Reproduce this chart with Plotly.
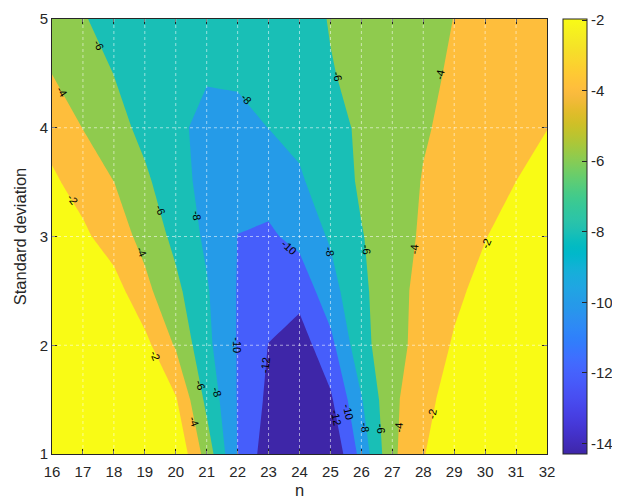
import plotly.graph_objects as go

# ---------------- data ----------------
n_values = [16, 17, 18, 19, 20, 21, 22, 23, 24, 25, 26, 27, 28, 29, 30, 31, 32]
sigma_values = [1.0, 1.5, 2.0, 2.5, 3.0, 3.5, 4.0, 4.5, 5.0]

z_sigma_1_0 = [0.2, 0.2, 0.1, 0.0, -0.18, -4.84, -10.1, -13.1, -14.3, -13.9, -9.34, -4.38, -2.16, 0.13, 0.3, 0.4, 0.5]
z_sigma_1_5 = [0.1, 0.0, -0.2, -0.8, -1.8, -6.5, -10.1, -12.42, -13.8, -12.34, -8.14, -4.4, -2.75, -0.95, 0.0, 0.2, 0.3]
z_sigma_2_0 = [0.0, -0.2, -0.6, -1.38, -4.2, -7.5, -10.1, -12.05, -13.0, -10.6, -6.6, -4.8, -3.2, -1.8, -0.9, -0.4, 0.0]
z_sigma_2_5 = [-0.2, -0.5, -1.14, -3.47, -5.5, -7.8, -10.1, -11.0, -11.3, -8.8, -6.3, -5.1, -3.1, -2.4, -1.4, -0.8, -0.4]
z_sigma_3_0 = [-1.1, -1.59, -3.02, -4.6, -6.53, -8.37, -10.02, -10.3, -9.44, -7.77, -6.12, -4.85, -3.74, -2.9, -2.07, -1.2, -0.6]
z_sigma_3_5 = [-1.66, -2.82, -3.98, -5.66, -7.14, -8.7, -9.6, -9.23, -8.2, -7.2, -5.7, -4.86, -3.91, -3.3, -2.64, -1.99, -1.35]
z_sigma_4_0 = [-2.76, -4.04, -5.32, -6.5, -7.56, -8.6, -8.55, -7.98, -7.61, -6.75, -5.65, -4.93, -4.16, -3.58, -3.06, -2.54, -2.03]
z_sigma_4_5 = [-4.02, -5.0, -6.03, -6.8, -7.4, -7.81, -7.72, -7.4, -6.9, -6.1, -5.55, -4.95, -4.34, -3.8, -3.35, -2.95, -2.55]
z_sigma_5_0 = [-5.0, -5.88, -6.6, -7.0, -7.3, -7.5, -7.45, -7.2, -6.7, -5.9, -5.4, -4.9, -4.45, -3.98, -3.55, -3.15, -2.8]

contour_levels = [-12, -10, -8, -6, -4, -2]
colorbar_ticks = [-14, -12, -10, -8, -6, -4, -2]
colorbar_range = [-14.3, -1.97]
x_ticks = [16, 17, 18, 19, 20, 21, 22, 23, 24, 25, 26, 27, 28, 29, 30, 31, 32]
y_ticks = [1, 2, 3, 4, 5]

# contour label texts (levels) and where they sit on the lines (n, sigma, angle)
label_levels = [-6, -4, -8, -6, -4, -2, -6, -8, -10, -8, -6, -4, -2,
                -4, -10, -2, -12, -6, -8, -4, -10, -12, -8, -6, -4, -2]
label_positions = [
    (17.51, 4.76, 64), (16.33, 4.33, 57), (22.28, 4.26, 48), (25.25, 4.47, 78), (28.55, 4.49, -78),
    (16.69, 3.34, 54), (19.50, 3.24, 68), (20.69, 3.19, 84), (23.65, 2.90, 42), (24.99, 2.86, 80),
    (26.18, 2.88, 85), (27.69, 2.88, -86), (30.04, 2.94, -67), (18.91, 2.86, 65), (21.98, 2.00, 90),
    (19.34, 1.90, 67), (22.89, 1.82, -84), (20.79, 1.63, 70), (21.33, 1.57, 73), (20.58, 1.30, 70),
    (25.59, 1.39, 77), (25.19, 1.33, 79), (26.13, 1.24, 83), (26.64, 1.23, 86), (27.20, 1.24, -86),
    (28.28, 1.37, -79),
]

# ---------------- style ----------------
band_colors = ['#3E26A8', '#465EFB', '#259BE8', '#19BFB6', '#8FCB4E', '#FEBE3C', '#F9FB15']

parula = [
    (0.2422, 0.1504, 0.6603), (0.2504, 0.1650, 0.7076), (0.2578, 0.1818, 0.7511), (0.2647, 0.1978, 0.7952),
    (0.2706, 0.2147, 0.8364), (0.2751, 0.2342, 0.8710), (0.2783, 0.2559, 0.8991), (0.2803, 0.2782, 0.9221),
    (0.2813, 0.3006, 0.9414), (0.2810, 0.3228, 0.9579), (0.2795, 0.3447, 0.9717), (0.2760, 0.3667, 0.9829),
    (0.2699, 0.3892, 0.9906), (0.2602, 0.4123, 0.9952), (0.2440, 0.4358, 0.9988), (0.2206, 0.4603, 0.9973),
    (0.1963, 0.4847, 0.9892), (0.1834, 0.5074, 0.9798), (0.1786, 0.5289, 0.9682), (0.1764, 0.5499, 0.9520),
    (0.1687, 0.5703, 0.9359), (0.1540, 0.5902, 0.9218), (0.1460, 0.6091, 0.9079), (0.1380, 0.6276, 0.8973),
    (0.1248, 0.6459, 0.8883), (0.1113, 0.6635, 0.8763), (0.0952, 0.6798, 0.8598), (0.0689, 0.6948, 0.8394),
    (0.0297, 0.7082, 0.8163), (0.0036, 0.7203, 0.7917), (0.0067, 0.7312, 0.7660), (0.0433, 0.7411, 0.7394),
    (0.0964, 0.7500, 0.7120), (0.1408, 0.7584, 0.6842), (0.1717, 0.7670, 0.6554), (0.1938, 0.7758, 0.6251),
    (0.2161, 0.7843, 0.5923), (0.2470, 0.7918, 0.5567), (0.2906, 0.7973, 0.5188), (0.3406, 0.8008, 0.4789),
    (0.3909, 0.8029, 0.4354), (0.4456, 0.8024, 0.3909), (0.5044, 0.7993, 0.3480), (0.5616, 0.7942, 0.3045),
    (0.6174, 0.7876, 0.2612), (0.6720, 0.7793, 0.2227), (0.7242, 0.7698, 0.1910), (0.7738, 0.7598, 0.1646),
    (0.8203, 0.7498, 0.1535), (0.8634, 0.7406, 0.1596), (0.9035, 0.7330, 0.1774), (0.9393, 0.7288, 0.2100),
    (0.9728, 0.7298, 0.2394), (0.9956, 0.7434, 0.2371), (0.9970, 0.7659, 0.2199), (0.9952, 0.7893, 0.2028),
    (0.9892, 0.8136, 0.1885), (0.9786, 0.8386, 0.1766), (0.9676, 0.8639, 0.1643), (0.9610, 0.8890, 0.1537),
    (0.9597, 0.9135, 0.1423), (0.9628, 0.9373, 0.1265), (0.9691, 0.9606, 0.1064), (0.9769, 0.9839, 0.0805),
]
parula_scale = [[i / (len(parula) - 1), 'rgb(%d,%d,%d)' % tuple(round(255 * c) for c in col)]
                for i, col in enumerate(parula)]

# stepwise scale: band i sits at fraction i/6 in plotly's fill colour map
nb = len(band_colors)
fill_scale = []
for i, c in enumerate(band_colors):
    lo = max(0.0, (2 * i - 1) / (2 * (nb - 1)))
    hi = min(1.0, (2 * i + 1) / (2 * (nb - 1)))
    fill_scale.append([lo, c])
    fill_scale.append([hi, c])

z_rows = [z_sigma_1_0, z_sigma_1_5, z_sigma_2_0, z_sigma_2_5, z_sigma_3_0,
          z_sigma_3_5, z_sigma_4_0, z_sigma_4_5, z_sigma_5_0]

FONT = 'Liberation Sans, Arial, Helvetica, sans-serif'
AXC = '#262626'
TICK_SIZE = 15
TITLE_SIZE = 16.5

fig = go.Figure()
fig.add_trace(go.Contour(
    x=n_values, y=sigma_values, z=z_rows,
    autocontour=False,
    contours=dict(start=contour_levels[0], end=contour_levels[-1],
                  size=contour_levels[1] - contour_levels[0],
                  coloring='fill', showlines=False, showlabels=False),
    line=dict(width=0, smoothing=0),
    colorscale=fill_scale, showscale=False, hoverinfo='skip',
))

# continuous parula colour bar
fig.add_trace(go.Scatter(
    x=[None], y=[None], mode='markers', showlegend=False, hoverinfo='skip',
    marker=dict(color=[colorbar_range[0]], colorscale=parula_scale,
                cmin=colorbar_range[0], cmax=colorbar_range[1], showscale=True,
                colorbar=dict(x=1.032, xanchor='left', y=0.5, yanchor='middle',
                              len=1, lenmode='fraction', thickness=24,
                              xpad=0, ypad=0,
                              tickvals=colorbar_ticks,
                              ticktext=[str(t) for t in colorbar_ticks],
                              ticks='inside', ticklen=5, tickcolor=AXC,
                              outlinewidth=1, outlinecolor=AXC,
                              tickfont=dict(family=FONT, size=TICK_SIZE, color=AXC)))
))

shapes = []
for xv in x_ticks[1:-1]:
    shapes.append(dict(type='line', xref='x', yref='y', x0=xv, x1=xv, y0=y_ticks[0], y1=y_ticks[-1],
                       line=dict(color='rgba(255,255,255,0.55)', width=1, dash='dot'), layer='above'))
for yv in y_ticks[1:-1]:
    shapes.append(dict(type='line', xref='x', yref='y', x0=x_ticks[0], x1=x_ticks[-1], y0=yv, y1=yv,
                       line=dict(color='rgba(255,255,255,0.55)', width=1, dash='dot'), layer='above'))

annotations = []
for lev, (xn, ys, ang) in zip(label_levels, label_positions):
    annotations.append(dict(x=xn, y=ys, xref='x', yref='y', text=str(lev), showarrow=False,
                            textangle=ang, font=dict(family=FONT, size=11, color='black')))

axis_common = dict(showgrid=False, zeroline=False, showline=True, linecolor=AXC, linewidth=1,
                   mirror='ticks', ticks='inside', ticklen=5, tickcolor=AXC, automargin=False,
                   tickfont=dict(family=FONT, size=TICK_SIZE, color=AXC))

# the page body adds an 8px offset, so the figure is 8px smaller and margins shifted
fig.update_layout(
    width=612, height=496,
    margin=dict(l=44, r=73, t=11, b=50, autoexpand=False),
    paper_bgcolor='white', plot_bgcolor='white',
    font=dict(family=FONT, color=AXC),
    shapes=shapes, annotations=annotations,
    xaxis=dict(range=[16, 32], tickvals=x_ticks, ticklabelstandoff=4,
               title=dict(text='n', font=dict(size=TITLE_SIZE), standoff=5),
               **axis_common),
    yaxis=dict(range=[1, 5], tickvals=y_ticks,
               title=dict(text='Standard deviation', font=dict(size=TITLE_SIZE), standoff=8),
               **axis_common),
    showlegend=False,
)

fig.write_html('out.html')
